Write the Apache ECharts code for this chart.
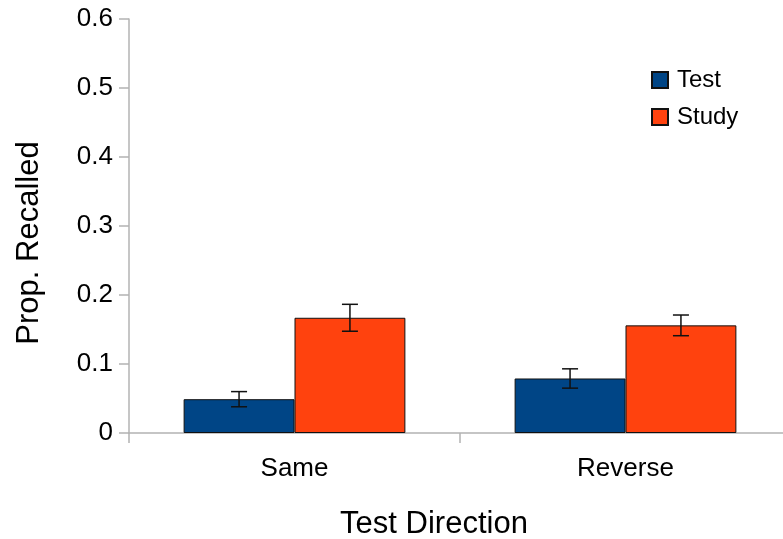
<!DOCTYPE html>
<html>
<head>
<meta charset="utf-8">
<script src="https://cdn.jsdelivr.net/npm/echarts@6/dist/echarts.min.js"></script>
<style>
  html, body { margin: 0; padding: 0; background: #ffffff; }
  #chart { width: 783px; height: 539px; }
</style>
</head>
<body>
<div id="chart"></div>
<script>
// Recall proportions by test direction and learning condition
const categories = ['Same', 'Reverse'];
const seriesNames = ['Test', 'Study'];
const testValues = [0.049, 0.079];
const studyValues = [0.167, 0.156];
// Standard error half-widths
const testErrors = [0.011, 0.014];
const studyErrors = [0.0195, 0.015];
const yTicks = [0, 0.1, 0.2, 0.3, 0.4, 0.5, 0.6];

const colors = ['#004586', '#ff420e'];
const axisGrey = '#b3b3b3';
const FONT = '"Liberation Sans", Arial, sans-serif';

const chart = echarts.init(document.getElementById('chart'), null, { renderer: 'canvas' });

const gapRatio = 0.33;

function errorSeries(values, errors, seriesIdx) {
  const data = values.map((v, i) => [i, v - errors[i], v + errors[i]]);
  return {
    type: 'custom',
    name: seriesNames[seriesIdx] + ' error',
    silent: true,
    z: 10,
    encode: { x: 0, y: [1, 2] },
    renderItem: function (params, api) {
      const band = api.size([1, 0])[0];
      const barW = band * (1 - gapRatio) / 2;
      const center = api.coord([api.value(0), 0])[0];
      const x = center + (seriesIdx === 0 ? -barW / 2 : barW / 2);
      const lo = api.coord([api.value(0), api.value(1)])[1];
      const hi = api.coord([api.value(0), api.value(2)])[1];
      const cap = 8;
      const style = { stroke: '#111111', lineWidth: 1.5 };
      return {
        type: 'group',
        children: [
          { type: 'line', shape: { x1: x, y1: lo, x2: x, y2: hi }, style: style },
          { type: 'line', shape: { x1: x - cap, y1: hi, x2: x + cap, y2: hi }, style: style },
          { type: 'line', shape: { x1: x - cap, y1: lo, x2: x + cap, y2: lo }, style: style }
        ]
      };
    },
    data: data
  };
}

const option = {
  animation: false,
  backgroundColor: '#ffffff',
  grid: {
    left: 129, top: 19, bottom: 106, width: 662,
    containLabel: false,
    outerBoundsMode: 'none'
  },
  legend: {
    orient: 'vertical',
    left: 651,
    top: 68,
    padding: 0,
    itemWidth: 16,
    itemHeight: 16,
    itemGap: 13,
    icon: 'rect',
    data: seriesNames,
    textStyle: { fontFamily: FONT, fontSize: 24, color: '#000000', padding: [0, 0, 0, 4] }
  },
  xAxis: {
    type: 'category',
    data: categories,
    axisLine: { lineStyle: { color: axisGrey, width: 1.5 } },
    axisTick: { show: true, length: 10, lineStyle: { color: axisGrey, width: 1.5 } },
    axisLabel: { fontFamily: FONT, fontSize: 26, color: '#000000', margin: 23 },
    splitLine: { show: false }
  },
  yAxis: {
    type: 'value',
    min: yTicks[0],
    max: yTicks[yTicks.length - 1],
    interval: 0.1,
    axisLine: { show: true, lineStyle: { color: axisGrey, width: 1.5 } },
    axisTick: { show: true, length: 10, lineStyle: { color: axisGrey, width: 1.5 } },
    axisLabel: { fontFamily: FONT, fontSize: 26, color: '#000000', margin: 16 },
    splitLine: { show: false }
  },
  graphic: [
    {
      type: 'text',
      x: 29, y: 243,
      rotation: Math.PI / 2,
      style: {
        text: 'Prop. Recalled',
        font: '31px ' + FONT,
        fill: '#000000',
        align: 'center',
        verticalAlign: 'middle'
      }
    },
    {
      type: 'text',
      x: 434, y: 524,
      style: {
        text: 'Test Direction',
        font: '31px ' + FONT,
        fill: '#000000',
        align: 'center',
        verticalAlign: 'middle'
      }
    }
  ],
  series: [
    {
      name: seriesNames[0],
      type: 'bar',
      data: testValues,
      barGap: '0%',
      barCategoryGap: (gapRatio * 100) + '%',
      itemStyle: { color: colors[0], borderColor: '#111111', borderWidth: 1 }
    },
    {
      name: seriesNames[1],
      type: 'bar',
      data: studyValues,
      barGap: '0%',
      barCategoryGap: (gapRatio * 100) + '%',
      itemStyle: { color: colors[1], borderColor: '#111111', borderWidth: 1 }
    },
    errorSeries(testValues, testErrors, 0),
    errorSeries(studyValues, studyErrors, 1)
  ]
};

chart.setOption(option);
</script>
</body>
</html>
